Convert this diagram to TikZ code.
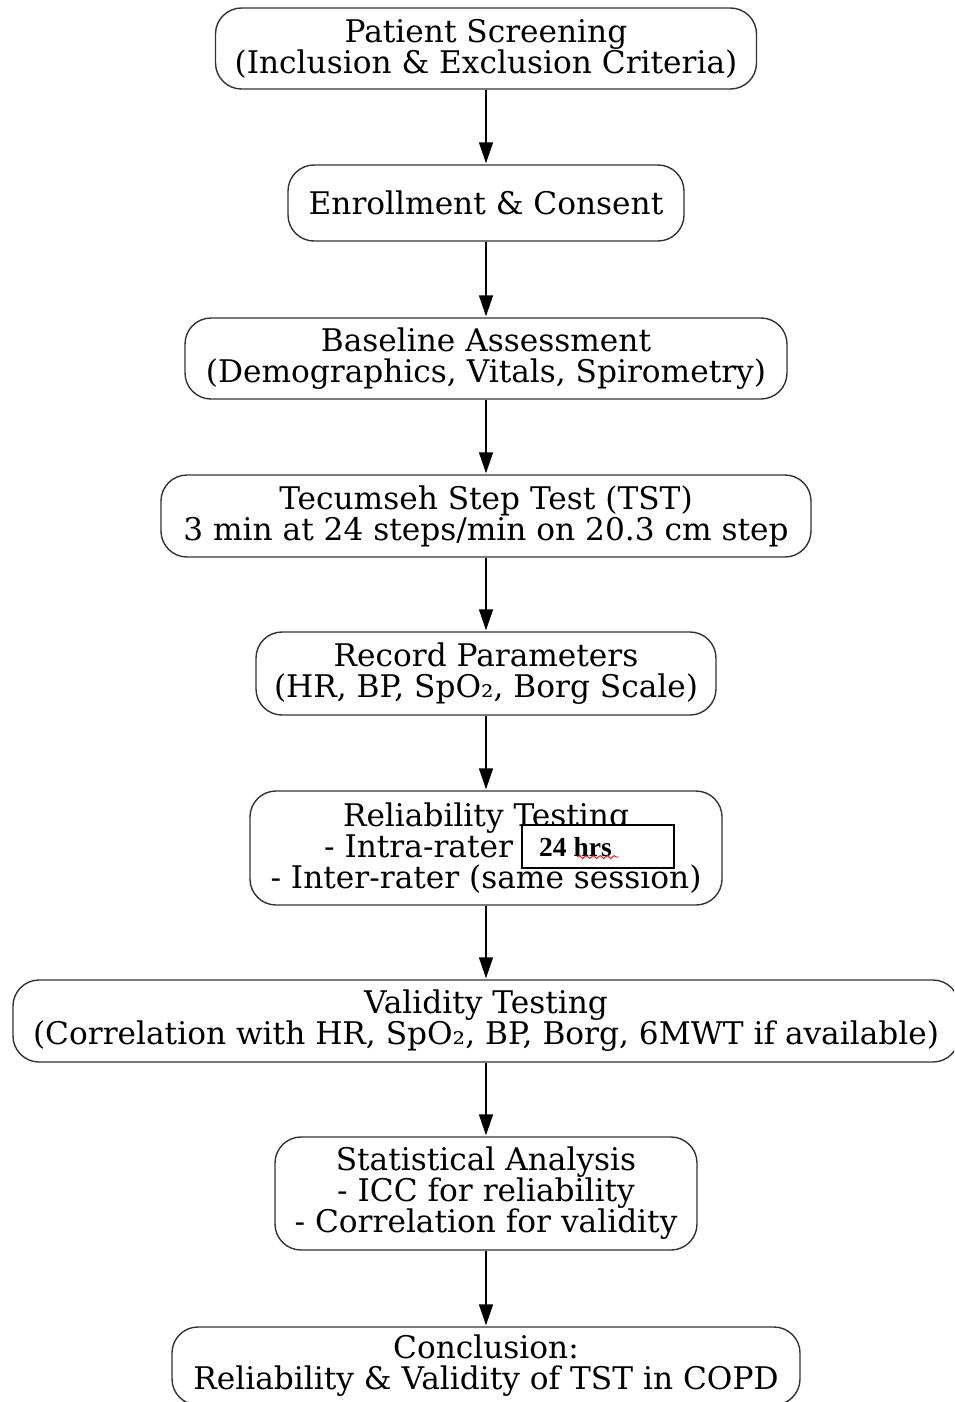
\documentclass[tikz,border=0pt]{standalone}
\usepackage{fontspec}
\setmainfont{DejaVu Serif}
\newfontfamily\timesb{Liberation Serif}
\usetikzlibrary{arrows.meta,decorations.pathmorphing}
\begin{document}
\begin{tikzpicture}[x=1pt,y=-1pt,
  box/.style={draw=black!80, line width=1.4pt, rounded corners=26pt, fill=white,
    align=center, inner sep=0pt, font=\fontsize{31.2}{31}\selectfont},
  arr/.style={draw=black, line width=1.4pt, -{Triangle[length=21pt,width=14pt]}, shorten >=1pt},
  note/.style={draw=black, line width=1.3pt, fill=white, inner sep=0pt}
]
\useasboundingbox (0,0) rectangle (954,1402);
\clip (0,0) rectangle (954,1402);

\node[box, minimum width=541pt, minimum height=81pt] (n1) at (486,48.5)
  {Patient Screening\\(Inclusion \& Exclusion Criteria)};
\node[box, minimum width=396pt, minimum height=76pt] (n2) at (486,203)
  {Enrollment \& Consent};
\node[box, minimum width=602pt, minimum height=81pt] (n3) at (486,358.5)
  {Baseline Assessment\\(Demographics, Vitals, Spirometry)};
\node[box, minimum width=650pt, minimum height=82pt] (n4) at (486,516)
  {Tecumseh Step Test (TST)\\3 min at 24 steps/min on 20.3 cm step};
\node[box, minimum width=460pt, minimum height=83pt] (n5) at (486,673.5)
  {Record Parameters\\(HR, BP, SpO₂, Borg Scale)};
\node[box, minimum width=472pt, minimum height=114pt] (n6) at (486,848)
  {Reliability Testing\\- Intra-rater (24 hrs)\\- Inter-rater (same session)};
\node[box, minimum width=946pt, minimum height=82pt] (n7) at (486,1021)
  {Validity Testing\\(Correlation with HR, SpO₂, BP, Borg, 6MWT if available)};
\node[box, minimum width=422pt, minimum height=113pt] (n8) at (486,1193.5)
  {Statistical Analysis\\- ICC for reliability\\- Correlation for validity};
\node[box, minimum width=628pt, minimum height=78pt] (n9) at (486,1366)
  {Conclusion:\\Reliability \& Validity of TST in COPD};

\draw[arr] (n1) -- (n2);
\draw[arr] (n2) -- (n3);
\draw[arr] (n3) -- (n4);
\draw[arr] (n4) -- (n5);
\draw[arr] (n5) -- (n6);
\draw[arr] (n6) -- (n7);
\draw[arr] (n7) -- (n8);
\draw[arr] (n8) -- (n9);

\node[note, minimum width=152pt, minimum height=43pt] (hrs) at (598,846.5) {};
\node[anchor=west, inner sep=0pt, font=\timesb\bfseries\fontsize{27.5}{30}\selectfont] (hrstxt) at (539,847) {24 hrs};
\coordinate (w1) at (577,857);
\coordinate (w2) at (619,857);
\draw[red, line width=0.9pt, decorate, decoration={snake, amplitude=1.4pt, segment length=7pt}] (w1) -- (w2);
\end{tikzpicture}
\end{document}
